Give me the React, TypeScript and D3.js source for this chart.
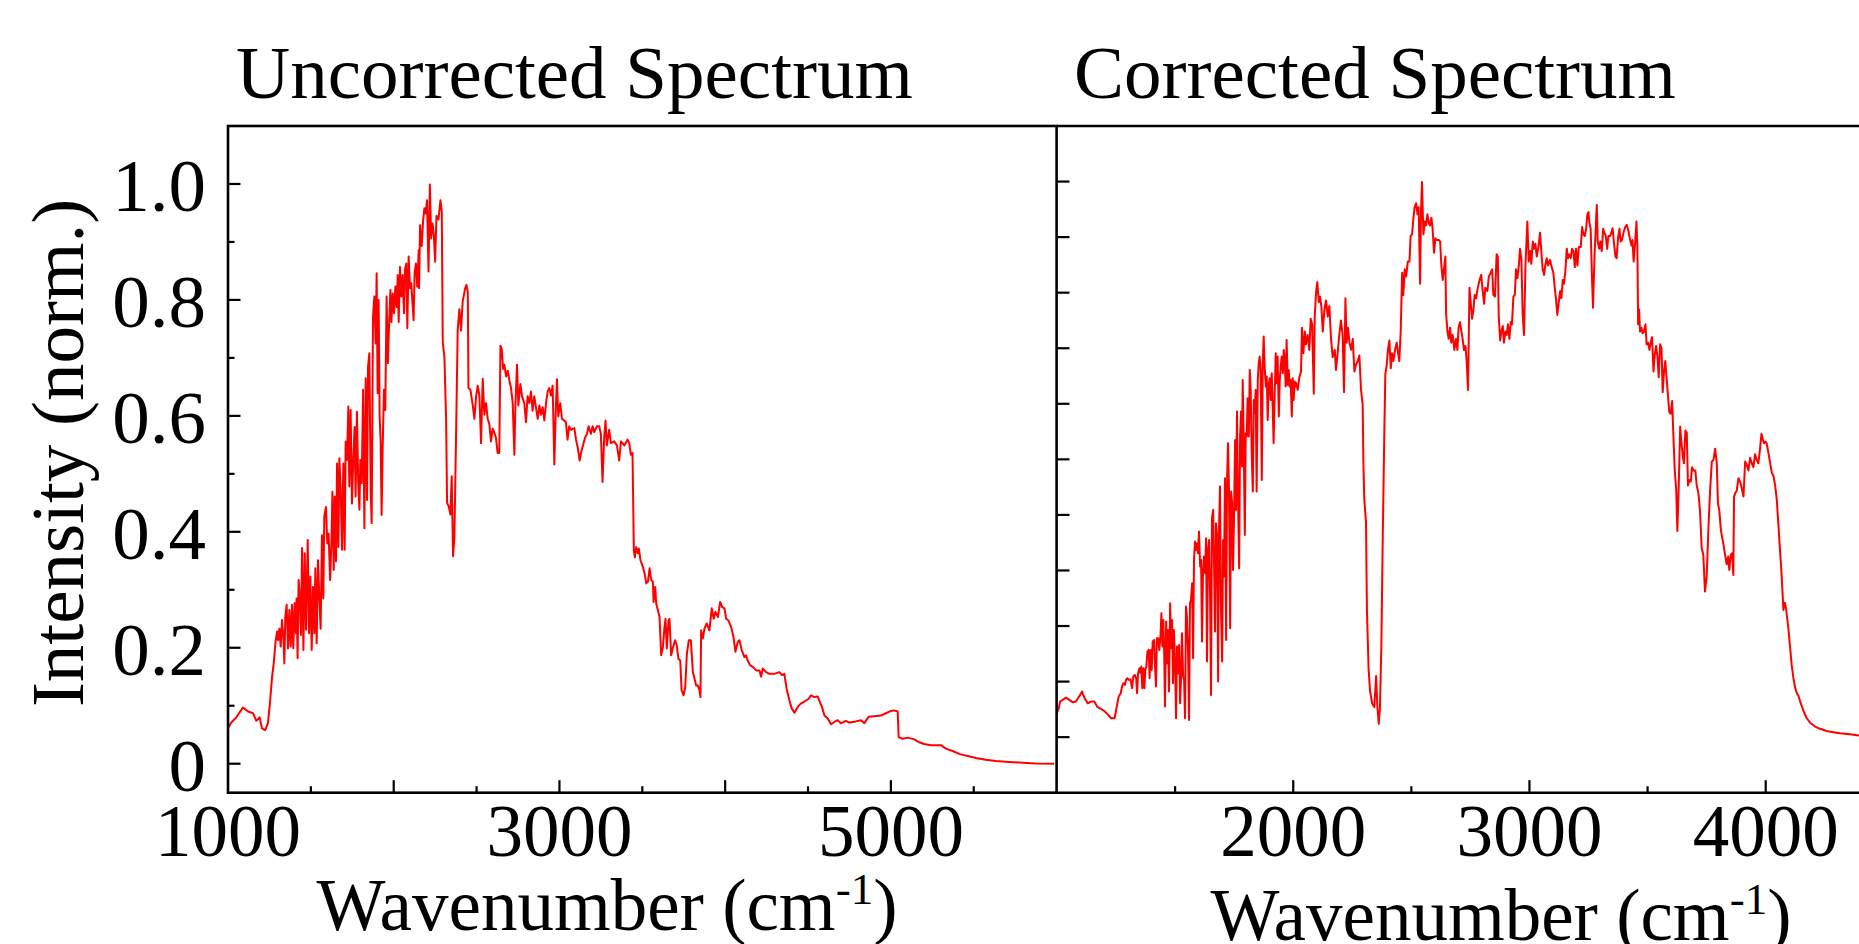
import React from "react";
import * as d3 from "d3";

// ---------- Data: [wavenumber cm^-1, normalised intensity] ----------
const uncorrectedSpectrum: [number, number][] = [
  [1000, 0.061], [1020, 0.071], [1050, 0.080], [1090, 0.097], [1121, 0.090], [1151, 0.087], [1171, 0.074], [1191, 0.080],
  [1205, 0.061], [1225, 0.058], [1241, 0.070], [1253, 0.104], [1266, 0.150], [1276, 0.173], [1286, 0.208], [1296, 0.228], [1302, 0.213], [1310, 0.233],
  [1318, 0.202], [1326, 0.248], [1334, 0.219], [1340, 0.173], [1346, 0.254], [1354, 0.274], [1362, 0.199], [1370, 0.265], [1378, 0.202], [1386, 0.274],
  [1394, 0.199], [1402, 0.277], [1410, 0.225], [1414, 0.285], [1420, 0.182], [1426, 0.317], [1434, 0.282], [1440, 0.222], [1447, 0.372], [1455, 0.196],
  [1463, 0.363], [1471, 0.231], [1481, 0.386], [1489, 0.225], [1497, 0.323], [1505, 0.196], [1513, 0.305], [1521, 0.225], [1527, 0.337], [1535, 0.208],
  [1543, 0.351], [1551, 0.288], [1559, 0.233], [1567, 0.394], [1575, 0.285], [1581, 0.426], [1591, 0.443], [1599, 0.380], [1607, 0.397], [1616, 0.317],
  [1624, 0.380], [1630, 0.469], [1638, 0.334], [1644, 0.461], [1652, 0.349], [1658, 0.518], [1666, 0.374], [1672, 0.527], [1680, 0.472], [1688, 0.369],
  [1696, 0.518], [1704, 0.369], [1710, 0.556], [1718, 0.524], [1726, 0.616], [1732, 0.478], [1740, 0.610], [1748, 0.449], [1756, 0.524], [1764, 0.581],
  [1770, 0.461], [1778, 0.607], [1786, 0.484], [1793, 0.438], [1799, 0.524], [1807, 0.484], [1815, 0.645], [1823, 0.406], [1831, 0.665], [1839, 0.455],
  [1845, 0.685], [1853, 0.708], [1861, 0.472], [1867, 0.415], [1875, 0.771], [1883, 0.806], [1891, 0.725], [1897, 0.846], [1903, 0.639], [1909, 0.800],
  [1915, 0.599], [1921, 0.558], [1927, 0.429], [1933, 0.541], [1941, 0.645], [1949, 0.610], [1957, 0.806], [1965, 0.691], [1971, 0.748], [1980, 0.817],
  [1986, 0.762], [1994, 0.811], [2002, 0.777], [2010, 0.823], [2018, 0.788], [2024, 0.843], [2030, 0.762], [2038, 0.857], [2046, 0.806], [2054, 0.843],
  [2062, 0.777], [2068, 0.852], [2076, 0.863], [2082, 0.751], [2090, 0.875], [2098, 0.820], [2106, 0.829], [2112, 0.800], [2120, 0.765], [2126, 0.846],
  [2134, 0.863], [2142, 0.823], [2151, 0.886],
  [2153, 0.820], [2159, 0.929], [2169, 0.893], [2177, 0.936], [2185, 0.958], [2193, 0.949], [2201, 0.972], [2210, 0.849], [2218, 0.999], [2226, 0.906],
  [2234, 0.932], [2242, 0.912], [2250, 0.866], [2258, 0.945], [2270, 0.939], [2282, 0.972], [2290, 0.952], [2296, 0.727], [2306, 0.701], [2316, 0.595],
  [2322, 0.450], [2332, 0.444], [2342, 0.430], [2350, 0.496], [2358, 0.358], [2366, 0.391], [2376, 0.562], [2386, 0.747], [2396, 0.784], [2406, 0.747],
  [2416, 0.797], [2431, 0.820], [2439, 0.826], [2447, 0.813], [2451, 0.648], [2463, 0.645], [2477, 0.618], [2487, 0.595], [2497, 0.634], [2507, 0.652],
  [2517, 0.634], [2527, 0.553], [2537, 0.664], [2547, 0.602], [2557, 0.622], [2567, 0.595], [2577, 0.586], [2587, 0.556], [2597, 0.578], [2607, 0.571],
  [2617, 0.562], [2627, 0.536], [2637, 0.536], [2644, 0.721], [2652, 0.715], [2660, 0.681], [2668, 0.688], [2678, 0.668], [2688, 0.678], [2698, 0.661],
  [2708, 0.648], [2718, 0.622], [2728, 0.533], [2734, 0.615], [2744, 0.688], [2752, 0.618], [2764, 0.655], [2774, 0.634], [2788, 0.622], [2798, 0.589],
  [2808, 0.634], [2818, 0.622], [2828, 0.642], [2838, 0.609], [2848, 0.634], [2858, 0.615], [2869, 0.595], [2879, 0.618], [2889, 0.602], [2899, 0.615],
  [2909, 0.592], [2919, 0.622], [2929, 0.642], [2939, 0.648], [2949, 0.635], [2959, 0.652], [2969, 0.516], [2977, 0.602], [2985, 0.663], [2993, 0.599],
  [3005, 0.622], [3015, 0.595], [3029, 0.592], [3039, 0.589], [3049, 0.559], [3059, 0.582], [3069, 0.576], [3090, 0.579], [3100, 0.559], [3110, 0.546],
  [3122, 0.523], [3130, 0.536], [3142, 0.549], [3154, 0.562], [3166, 0.569], [3176, 0.582], [3190, 0.569], [3200, 0.582], [3210, 0.572], [3226, 0.582],
  [3240, 0.582], [3250, 0.569], [3260, 0.486], [3270, 0.562], [3278, 0.592], [3286, 0.549], [3300, 0.576], [3310, 0.553], [3331, 0.556], [3347, 0.549],
  [3361, 0.523], [3371, 0.556], [3391, 0.549], [3411, 0.559], [3421, 0.553], [3431, 0.533], [3441, 0.536],
  [3449, 0.368], [3455, 0.356], [3463, 0.374], [3473, 0.363], [3479, 0.371], [3489, 0.351], [3503, 0.340], [3514, 0.328], [3524, 0.311], [3534, 0.314],
  [3544, 0.337], [3554, 0.317], [3564, 0.314], [3568, 0.279], [3578, 0.305], [3584, 0.276], [3594, 0.265], [3604, 0.253], [3614, 0.187], [3624, 0.201],
  [3634, 0.236], [3640, 0.250], [3648, 0.199], [3658, 0.247], [3664, 0.250], [3674, 0.187], [3684, 0.199], [3698, 0.213], [3708, 0.204], [3718, 0.181],
  [3729, 0.178], [3737, 0.127], [3749, 0.118], [3759, 0.132], [3769, 0.190], [3781, 0.213], [3793, 0.213], [3805, 0.158], [3815, 0.147], [3825, 0.135],
  [3835, 0.135], [3845, 0.127], [3851, 0.115], [3855, 0.230], [3865, 0.216], [3875, 0.233], [3889, 0.242], [3905, 0.230], [3919, 0.268], [3931, 0.250],
  [3941, 0.262], [3956, 0.253], [3970, 0.279], [3982, 0.270], [3996, 0.268], [4006, 0.250], [4020, 0.247], [4036, 0.236], [4050, 0.219], [4062, 0.193],
  [4076, 0.210], [4086, 0.213], [4100, 0.196], [4116, 0.184], [4126, 0.187], [4136, 0.178], [4150, 0.170], [4167, 0.167], [4187, 0.161], [4207, 0.161],
  [4217, 0.150], [4227, 0.164], [4247, 0.158], [4267, 0.155], [4297, 0.155], [4327, 0.158], [4343, 0.153], [4357, 0.155], [4371, 0.129], [4388, 0.109],
  [4402, 0.095], [4418, 0.088], [4438, 0.098], [4458, 0.104], [4472, 0.106], [4488, 0.109], [4504, 0.112], [4518, 0.118], [4538, 0.115], [4558, 0.116],
  [4568, 0.109], [4584, 0.098], [4599, 0.083], [4619, 0.078], [4639, 0.068], [4659, 0.072], [4679, 0.075], [4699, 0.070], [4729, 0.074], [4749, 0.071],
  [4789, 0.073], [4820, 0.075], [4840, 0.070], [4866, 0.081], [4900, 0.082], [4940, 0.083], [4970, 0.087], [5000, 0.091], [5020, 0.092], [5041, 0.090],
  [5047, 0.046], [5071, 0.043], [5101, 0.045], [5141, 0.042], [5171, 0.037], [5201, 0.034], [5241, 0.032], [5302, 0.032], [5332, 0.026], [5372, 0.022],
  [5412, 0.017], [5452, 0.014], [5513, 0.010], [5573, 0.007], [5633, 0.0045], [5714, 0.003], [5794, 0.0017], [5874, 0.0005], [5985, 0.0],
];

const correctedSpectrum: [number, number][] = [
  [996, 0.041], [1007, 0.051], [1013, 0.064], [1024, 0.067], [1038, 0.071], [1052, 0.067], [1066, 0.063], [1080, 0.064], [1095, 0.074], [1106, 0.082],
  [1116, 0.071], [1130, 0.061], [1144, 0.064], [1158, 0.064], [1172, 0.054], [1186, 0.051], [1200, 0.047], [1215, 0.041], [1229, 0.034],
  [1244, 0.034], [1253, 0.055], [1261, 0.073], [1270, 0.079], [1275, 0.091], [1281, 0.097], [1287, 0.094], [1292, 0.103], [1298, 0.106], [1304, 0.103],
  [1311, 0.104], [1318, 0.088], [1323, 0.109], [1329, 0.112], [1335, 0.106], [1339, 0.079], [1343, 0.115], [1349, 0.124], [1354, 0.115], [1357, 0.127],
  [1361, 0.088], [1366, 0.124], [1370, 0.088], [1374, 0.121], [1378, 0.127], [1383, 0.154], [1388, 0.157], [1392, 0.106], [1397, 0.157], [1401, 0.121],
  [1405, 0.172], [1411, 0.175], [1415, 0.127], [1419, 0.091], [1423, 0.178], [1429, 0.178], [1433, 0.157], [1438, 0.181], [1442, 0.223], [1446, 0.163],
  [1450, 0.211], [1454, 0.148], [1457, 0.055], [1462, 0.208], [1466, 0.133], [1470, 0.193], [1474, 0.082], [1479, 0.241], [1483, 0.160], [1487, 0.211],
  [1491, 0.097], [1495, 0.193], [1500, 0.127], [1504, 0.034], [1508, 0.163], [1512, 0.115], [1517, 0.166], [1521, 0.061], [1525, 0.103], [1529, 0.187],
  [1534, 0.109], [1538, 0.103], [1542, 0.034], [1546, 0.235], [1550, 0.217], [1555, 0.151], [1559, 0.031], [1563, 0.241], [1567, 0.247], [1572, 0.277],
  [1576, 0.142], [1580, 0.319], [1584, 0.352], [1589, 0.337], [1593, 0.349], [1597, 0.331], [1601, 0.370], [1606, 0.307], [1610, 0.319], [1614, 0.172],
  [1618, 0.295], [1622, 0.325], [1627, 0.295], [1631, 0.358], [1635, 0.136], [1639, 0.337], [1644, 0.355], [1648, 0.253], [1652, 0.076], [1656, 0.394],
  [1661, 0.409], [1665, 0.307], [1669, 0.190], [1673, 0.385], [1678, 0.361], [1682, 0.100], [1686, 0.379], [1690, 0.451], [1694, 0.235], [1699, 0.136],
  [1703, 0.355], [1707, 0.289], [1711, 0.466], [1716, 0.175], [1720, 0.466], [1724, 0.529], [1728, 0.445], [1733, 0.196], [1737, 0.442], [1741, 0.424],
  [1745, 0.301], [1749, 0.385], [1754, 0.535], [1758, 0.409], [1762, 0.586], [1766, 0.439], [1771, 0.304], [1775, 0.541], [1779, 0.586], [1783, 0.487],
  [1786, 0.643], [1790, 0.544], [1795, 0.364], [1799, 0.547], [1803, 0.541], [1807, 0.610], [1812, 0.541], [1816, 0.661], [1820, 0.625], [1824, 0.514],
  [1829, 0.442], [1833, 0.607], [1837, 0.583], [1841, 0.625], [1845, 0.442], [1850, 0.643], [1854, 0.673], [1858, 0.685], [1862, 0.661], [1867, 0.463],
  [1871, 0.673], [1875, 0.721], [1879, 0.667], [1884, 0.631], [1888, 0.649], [1892, 0.571], [1896, 0.631], [1900, 0.646], [1905, 0.607], [1909, 0.655],
  [1913, 0.595], [1917, 0.529], [1922, 0.625], [1926, 0.691], [1930, 0.637], [1934, 0.685], [1939, 0.577], [1943, 0.643], [1947, 0.667], [1951, 0.685],
  [1956, 0.655], [1960, 0.697], [1964, 0.679], [1968, 0.631], [1972, 0.715], [1977, 0.634], [1981, 0.661], [1985, 0.631], [1989, 0.643], [1994, 0.577],
  [1998, 0.646], [2002, 0.607], [2006, 0.640], [2010, 0.631],
  [2012, 0.638], [2019, 0.625], [2026, 0.648], [2033, 0.658], [2037, 0.737], [2043, 0.691], [2049, 0.730], [2054, 0.707], [2061, 0.724], [2068, 0.697],
  [2074, 0.753], [2080, 0.743], [2087, 0.618], [2091, 0.757], [2097, 0.803], [2102, 0.819], [2108, 0.783], [2113, 0.793], [2119, 0.776], [2125, 0.730],
  [2132, 0.770], [2139, 0.786], [2146, 0.757], [2153, 0.776], [2160, 0.717], [2167, 0.684], [2176, 0.697], [2181, 0.661], [2188, 0.691], [2195, 0.724],
  [2202, 0.750], [2209, 0.724], [2215, 0.621], [2221, 0.790], [2226, 0.710], [2232, 0.737], [2238, 0.710], [2245, 0.697], [2252, 0.717], [2259, 0.658],
  [2266, 0.671], [2273, 0.677], [2280, 0.687], [2287, 0.625], [2294, 0.598], [2297, 0.493], [2301, 0.427], [2308, 0.387], [2312, 0.229], [2319, 0.123],
  [2325, 0.084], [2334, 0.061], [2343, 0.054], [2351, 0.110], [2356, 0.057], [2362, 0.024], [2367, 0.051], [2373, 0.163], [2379, 0.361], [2386, 0.559],
  [2390, 0.654], [2396, 0.671], [2401, 0.697], [2407, 0.714], [2413, 0.664], [2418, 0.691], [2424, 0.677], [2431, 0.697], [2438, 0.710], [2444, 0.691],
  [2449, 0.677], [2455, 0.730], [2461, 0.836], [2466, 0.796], [2472, 0.842], [2478, 0.829], [2485, 0.856], [2492, 0.856], [2497, 0.902], [2503, 0.905],
  [2509, 0.935], [2514, 0.954], [2520, 0.961], [2526, 0.941], [2531, 0.954], [2537, 0.816], [2541, 0.948], [2545, 0.999], [2551, 0.905], [2557, 0.928],
  [2562, 0.921], [2568, 0.941], [2574, 0.925], [2579, 0.921], [2585, 0.935], [2590, 0.915], [2596, 0.872], [2602, 0.898], [2607, 0.895], [2616, 0.895],
  [2622, 0.892], [2627, 0.849], [2633, 0.823], [2638, 0.842], [2644, 0.865], [2647, 0.763], [2653, 0.730], [2658, 0.717], [2664, 0.737], [2669, 0.710],
  [2675, 0.724], [2682, 0.697], [2689, 0.717], [2695, 0.697], [2700, 0.737], [2706, 0.747], [2712, 0.730], [2717, 0.717], [2723, 0.697], [2729, 0.704],
  [2734, 0.677], [2740, 0.625], [2746, 0.809], [2757, 0.753], [2763, 0.770], [2768, 0.796], [2774, 0.790], [2780, 0.806], [2785, 0.816], [2791, 0.826],
  [2796, 0.832], [2802, 0.803], [2808, 0.780], [2813, 0.809], [2822, 0.803], [2828, 0.829], [2836, 0.836], [2842, 0.842], [2847, 0.796], [2854, 0.793],
  [2861, 0.869], [2866, 0.865], [2870, 0.757], [2876, 0.714], [2881, 0.730], [2887, 0.740], [2892, 0.710], [2898, 0.730], [2904, 0.724], [2909, 0.743],
  [2915, 0.717], [2921, 0.747], [2926, 0.743], [2932, 0.793], [2938, 0.796], [2943, 0.842], [2949, 0.826], [2955, 0.849], [2960, 0.879], [2966, 0.859],
  [2971, 0.763], [2977, 0.724], [2983, 0.849], [2991, 0.928], [2997, 0.856], [3003, 0.875], [3008, 0.852], [3014, 0.892], [3019, 0.879], [3025, 0.888],
  [3031, 0.865], [3038, 0.882], [3045, 0.908], [3050, 0.875], [3056, 0.842], [3062, 0.832], [3067, 0.849], [3073, 0.862], [3079, 0.849], [3087, 0.859],
  [3094, 0.846], [3101, 0.836], [3107, 0.809], [3113, 0.786], [3118, 0.760], [3124, 0.783], [3130, 0.803], [3135, 0.790], [3141, 0.823], [3146, 0.816],
  [3152, 0.839], [3158, 0.879], [3163, 0.862], [3169, 0.869], [3175, 0.862], [3180, 0.879], [3186, 0.875], [3192, 0.846], [3197, 0.879], [3203, 0.849],
  [3209, 0.882], [3217, 0.882], [3223, 0.918], [3228, 0.905], [3234, 0.902], [3240, 0.915], [3245, 0.941], [3250, 0.945], [3254, 0.925], [3259, 0.915],
  [3265, 0.823], [3269, 0.773], [3275, 0.862], [3281, 0.921], [3285, 0.958], [3289, 0.892], [3295, 0.879], [3300, 0.892], [3306, 0.875], [3312, 0.915],
  [3317, 0.908], [3323, 0.902], [3329, 0.879], [3334, 0.902], [3341, 0.902], [3347, 0.908], [3352, 0.916], [3358, 0.888], [3364, 0.865], [3369, 0.862],
  [3375, 0.898], [3381, 0.915], [3386, 0.892], [3392, 0.895], [3398, 0.908], [3405, 0.918], [3412, 0.922], [3419, 0.911], [3426, 0.895], [3432, 0.885],
  [3436, 0.895], [3441, 0.856], [3447, 0.888], [3453, 0.928], [3457, 0.879], [3460, 0.743], [3464, 0.770], [3468, 0.730], [3474, 0.737], [3479, 0.727],
  [3485, 0.730], [3491, 0.743], [3496, 0.707], [3502, 0.710], [3508, 0.697], [3513, 0.710], [3519, 0.720], [3525, 0.658], [3530, 0.687], [3536, 0.704],
  [3542, 0.684], [3547, 0.648], [3553, 0.707], [3559, 0.700], [3564, 0.621], [3570, 0.661], [3575, 0.677], [3581, 0.644], [3587, 0.611], [3592, 0.585],
  [3598, 0.582], [3604, 0.605], [3609, 0.546], [3615, 0.480], [3621, 0.447], [3626, 0.371], [3632, 0.453], [3638, 0.559], [3643, 0.532], [3649, 0.506],
  [3654, 0.493], [3660, 0.552], [3666, 0.548], [3671, 0.453], [3677, 0.463], [3683, 0.460], [3688, 0.486], [3694, 0.480], [3702, 0.480], [3708, 0.453],
  [3715, 0.440], [3722, 0.407], [3729, 0.341], [3736, 0.328], [3743, 0.262], [3750, 0.288], [3758, 0.381], [3765, 0.447], [3772, 0.496], [3779, 0.499],
  [3786, 0.519], [3793, 0.493], [3798, 0.420], [3804, 0.407], [3810, 0.374], [3815, 0.361], [3821, 0.348], [3828, 0.328], [3835, 0.311], [3841, 0.325],
  [3846, 0.301], [3852, 0.328], [3858, 0.331], [3863, 0.292], [3866, 0.433], [3872, 0.440], [3877, 0.443], [3885, 0.466], [3892, 0.460], [3899, 0.447],
  [3906, 0.433], [3913, 0.496], [3920, 0.490], [3927, 0.480], [3934, 0.503], [3941, 0.493], [3948, 0.486], [3955, 0.509], [3962, 0.499], [3969, 0.493],
  [3976, 0.519], [3982, 0.546], [3988, 0.536], [3993, 0.529], [3999, 0.532], [4004, 0.529], [4011, 0.513], [4019, 0.493], [4026, 0.476], [4033, 0.470],
  [4040, 0.453], [4047, 0.427], [4054, 0.381], [4061, 0.334], [4068, 0.288], [4075, 0.229], [4081, 0.242], [4086, 0.232], [4096, 0.196], [4103, 0.163],
  [4110, 0.130], [4117, 0.107], [4124, 0.090], [4131, 0.080], [4139, 0.074], [4146, 0.064], [4160, 0.047], [4174, 0.034], [4188, 0.026], [4209, 0.019],
  [4230, 0.015], [4258, 0.011], [4287, 0.009], [4315, 0.007], [4357, 0.005], [4395, 0.003],
];

// ---------- Axes / ticks ----------
const leftXMajor = [2000, 3000, 4000, 5000];
const leftXMinor = [1500, 2500, 3500, 4500, 5500];
const leftXLabels = [1000, 3000, 5000];
const leftYMajor = [0, 0.2, 0.4, 0.6, 0.8, 1.0];
const leftYMinor = [0.1, 0.3, 0.5, 0.7, 0.9];
const leftYLabels = ["0", "0.2", "0.4", "0.6", "0.8", "1.0"];
const rightXMajor = [2000, 3000, 4000];
const rightXMinor = [1500, 2500, 3500];
const rightXLabels = [2000, 3000, 4000];
const rightYTicks = [0, 0.1, 0.2, 0.3, 0.4, 0.5, 0.6, 0.7, 0.8, 0.9, 1.0];

const titleLeft = "Uncorrected Spectrum";
const titleRight = "Corrected Spectrum";
const yTitle = "Intensity (norm.)";

const FONT = "'Liberation Serif', 'Times New Roman', Times, serif";

export default function App() {
  const W = 1859;
  const H = 944;
  const top = 126;
  const bottom = 792.7;

  const xL = d3.scaleLinear().domain([1000, 6000]).range([228, 1056.6]);
  const yL = d3.scaleLinear().domain([-0.05, 1.1]).range([bottom, top]);
  const xR = d3.scaleLinear().domain([1000, 4395]).range([1057, 1859]);
  const yR = d3.scaleLinear().domain([-0.1, 1.1]).range([bottom, top]);

  const lineL = d3.line<[number, number]>().x((d) => xL(d[0])).y((d) => yL(d[1]));
  const lineR = d3.line<[number, number]>().x((d) => xR(d[0])).y((d) => yR(d[1]));

  const axisStroke = 2.6;
  const tickStroke = 2.2;
  const majorLen = 12.5;
  const minorLen = 6.5;

  const xTitle = (cx: number, baseline: number) => (
    <text x={cx} y={baseline} textAnchor="middle" fontFamily={FONT} fontSize={73} fill="#000">
      <tspan>Wavenumber (cm</tspan>
      <tspan fontSize={45} dy={-26}>-1</tspan>
      <tspan dy={26}>)</tspan>
    </text>
  );

  return (
    <div style={{ position: "absolute", left: 0, top: 0, width: W, height: H, overflow: "hidden", background: "#fff" }}>
      <svg width={W} height={H} viewBox={`0 0 ${W} ${H}`} style={{ display: "block" }}>
        <rect x={0} y={0} width={W} height={H} fill="#fff" />

        {/* Titles */}
        <text x={236} y={98} fontFamily={FONT} fontSize={75} fill="#000">{titleLeft}</text>
        <text x={1074} y={98} fontFamily={FONT} fontSize={75} fill="#000">{titleRight}</text>

        {/* Curves */}
        <defs>
          <clipPath id="clipL">
            <rect x={228} y={top} width={1056.6 - 228} height={bottom - top} />
          </clipPath>
          <clipPath id="clipR">
            <rect x={1057} y={top} width={W - 1057} height={bottom - top} />
          </clipPath>
        </defs>
        <path d={lineL(uncorrectedSpectrum) || ""} fill="none" stroke="#ff0000" strokeWidth={2} strokeLinejoin="round" clipPath="url(#clipL)" />
        <path d={lineR(correctedSpectrum) || ""} fill="none" stroke="#ff0000" strokeWidth={2} strokeLinejoin="round" clipPath="url(#clipR)" />

        {/* Left frame */}
        <rect x={228} y={top} width={1056.6 - 228} height={bottom - top} fill="none" stroke="#000" strokeWidth={axisStroke} />
        {/* Right frame (top, bottom; left edge shared) */}
        <line x1={1057} x2={W} y1={top} y2={top} stroke="#000" strokeWidth={axisStroke} />
        <line x1={1057} x2={W} y1={bottom} y2={bottom} stroke="#000" strokeWidth={axisStroke} />

        {/* Left x ticks */}
        {leftXMajor.map((t) => (
          <line key={"lxM" + t} x1={xL(t)} x2={xL(t)} y1={bottom} y2={bottom - majorLen} stroke="#000" strokeWidth={tickStroke} />
        ))}
        {leftXMinor.map((t) => (
          <line key={"lxm" + t} x1={xL(t)} x2={xL(t)} y1={bottom} y2={bottom - minorLen} stroke="#000" strokeWidth={tickStroke} />
        ))}
        {leftXLabels.map((t) => (
          <text key={"lxl" + t} x={xL(t)} y={856} textAnchor="middle" fontFamily={FONT} fontSize={73} fill="#000">{t}</text>
        ))}

        {/* Left y ticks */}
        {leftYMajor.map((t) => (
          <line key={"lyM" + t} x1={228} x2={228 + majorLen} y1={yL(t)} y2={yL(t)} stroke="#000" strokeWidth={tickStroke} />
        ))}
        {leftYMinor.map((t) => (
          <line key={"lym" + t} x1={228} x2={228 + minorLen} y1={yL(t)} y2={yL(t)} stroke="#000" strokeWidth={tickStroke} />
        ))}
        {leftYMajor.map((t, i) => (
          <text key={"lyl" + t} x={206} y={yL(t) + 27} textAnchor="end" fontFamily={FONT} fontSize={75} fill="#000">{leftYLabels[i]}</text>
        ))}

        {/* Right x ticks */}
        {rightXMajor.map((t) => (
          <line key={"rxM" + t} x1={xR(t)} x2={xR(t)} y1={bottom} y2={bottom - majorLen} stroke="#000" strokeWidth={tickStroke} />
        ))}
        {rightXMinor.map((t) => (
          <line key={"rxm" + t} x1={xR(t)} x2={xR(t)} y1={bottom} y2={bottom - minorLen} stroke="#000" strokeWidth={tickStroke} />
        ))}
        {rightXLabels.map((t) => (
          <text key={"rxl" + t} x={xR(t)} y={856} textAnchor="middle" fontFamily={FONT} fontSize={73} fill="#000">{t}</text>
        ))}

        {/* Right y ticks */}
        {rightYTicks.map((t) => (
          <line key={"ry" + t} x1={1057} x2={1057 + majorLen} y1={yR(t)} y2={yR(t)} stroke="#000" strokeWidth={tickStroke} />
        ))}

        {/* Axis titles */}
        <text transform="rotate(-90)" x={-453} y={83} textAnchor="middle" fontFamily={FONT} fontSize={75} fill="#000">{yTitle}</text>
        {xTitle(607, 930)}
        {xTitle(1501, 940)}
      </svg>
    </div>
  );
}
